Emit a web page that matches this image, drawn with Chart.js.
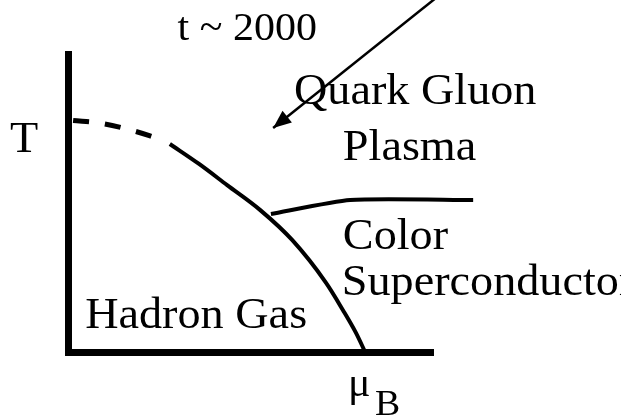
<!DOCTYPE html>
<html>
<head>
<meta charset="utf-8">
<script src="https://cdn.jsdelivr.net/npm/chart.js@4/dist/chart.umd.min.js"></script>
<style>
  html, body { margin: 0; padding: 0; background: #fff; overflow: hidden; }
</style>
</head>
<body>
<canvas id="phaseChart" width="621" height="418"></canvas>
<script>
// Phase diagram: mu_B on x, T on y (arbitrary units 0..10)
const crossoverMu = [0.14, 0.88, 1.56, 2.25, 2.66];
const crossoverT  = [7.77, 7.68, 7.50, 7.25, 7.05];

const transitionMu = [2.79, 3.59, 4.36, 5.26, 6.14, 7.07, 7.53, 7.89, 8.14];
const transitionT  = [6.98, 6.31, 5.60, 4.77, 3.76, 2.32, 1.41, 0.64, 0.00];

const superMu = [5.56, 7.73, 11.10];
const superT  = [4.63, 5.10, 5.10];

const arrowMu = [10.11, 5.62];
const arrowT  = [11.91, 7.52];

// text labels, anchored by their left baseline
const labels = [
  { text: 't ~ 2000',       mu: 3.00,  t: 10.46, size: 40 },
  { text: 'Quark Gluon',    mu: 6.19,  t: 8.32,  size: 44 },
  { text: 'Plasma',         mu: 7.53,  t: 6.44,  size: 44 },
  { text: 'Color',          mu: 7.53,  t: 3.46,  size: 44 },
  { text: 'Superconductor', mu: 7.50,  t: 1.91,  size: 44 },
  { text: 'Hadron Gas',     mu: 0.47,  t: 0.81,  size: 44 },
  { text: 'T',              mu: -1.59, t: 6.71,  size: 44 },
  { text: '\u03bc',         mu: 7.67,  t: -1.48, size: 40 },
  { text: 'B',              mu: 8.41,  t: -2.11, size: 36 }
];

const toPoints = (xs, ys) => xs.map((x, i) => ({ x: x, y: ys[i] }));

const lineStyle = {
  showLine: true,
  pointRadius: 0,
  borderColor: '#000',
  backgroundColor: '#000',
  clip: false
};

const labelPlugin = {
  id: 'labels',
  afterDraw(chart) {
    const c = chart.ctx;
    const xs = chart.scales.x, ys = chart.scales.y;

    // arrow head at the end of the arrow line
    const pts = chart.getDatasetMeta(3).data;
    const tail = pts[0], tip = pts[1];
    const ang = Math.atan2(tip.y - tail.y, tip.x - tail.x);
    const len = 18, half = 7.5;
    c.save();
    c.fillStyle = '#000';
    c.beginPath();
    c.moveTo(tip.x, tip.y);
    c.lineTo(tip.x - len * Math.cos(ang) + half * Math.sin(ang), tip.y - len * Math.sin(ang) - half * Math.cos(ang));
    c.lineTo(tip.x - len * Math.cos(ang) - half * Math.sin(ang), tip.y - len * Math.sin(ang) + half * Math.cos(ang));
    c.closePath();
    c.fill();
    c.restore();

    labels.forEach(l => {
      c.save();
      c.translate(xs.getPixelForValue(l.mu), ys.getPixelForValue(l.t));
      c.scale(1.05, 1);
      c.font = l.size + 'px "Liberation Serif", "Times New Roman", serif';
      c.fillStyle = '#000';
      c.textBaseline = 'alphabetic';
      c.fillText(l.text, 0, 0);
      c.restore();
    });
  }
};

const axisOpts = {
  type: 'linear',
  min: 0,
  max: 10,
  grid: { display: false, drawTicks: false },
  ticks: { display: false },
  border: { display: true, color: '#000', width: 7 }
};

new Chart(document.getElementById('phaseChart').getContext('2d'), {
  type: 'scatter',
  data: {
    datasets: [
      Object.assign({ data: toPoints(crossoverMu, crossoverT), borderWidth: 5, borderDash: [16, 16], cubicInterpolationMode: 'monotone' }, lineStyle),
      Object.assign({ data: toPoints(transitionMu, transitionT), borderWidth: 4, cubicInterpolationMode: 'monotone' }, lineStyle),
      Object.assign({ data: toPoints(superMu, superT), borderWidth: 4, tension: 0.2 }, lineStyle),
      Object.assign({ data: toPoints(arrowMu, arrowT), borderWidth: 2.5, tension: 0 }, lineStyle)
    ]
  },
  options: {
    responsive: false,
    animation: false,
    layout: { padding: { left: 68, right: 188, top: 54, bottom: 66 } },
    plugins: { legend: { display: false }, tooltip: { enabled: false } },
    scales: { x: axisOpts, y: Object.assign({}, axisOpts) }
  },
  plugins: [labelPlugin]
});
</script>
</body>
</html>
